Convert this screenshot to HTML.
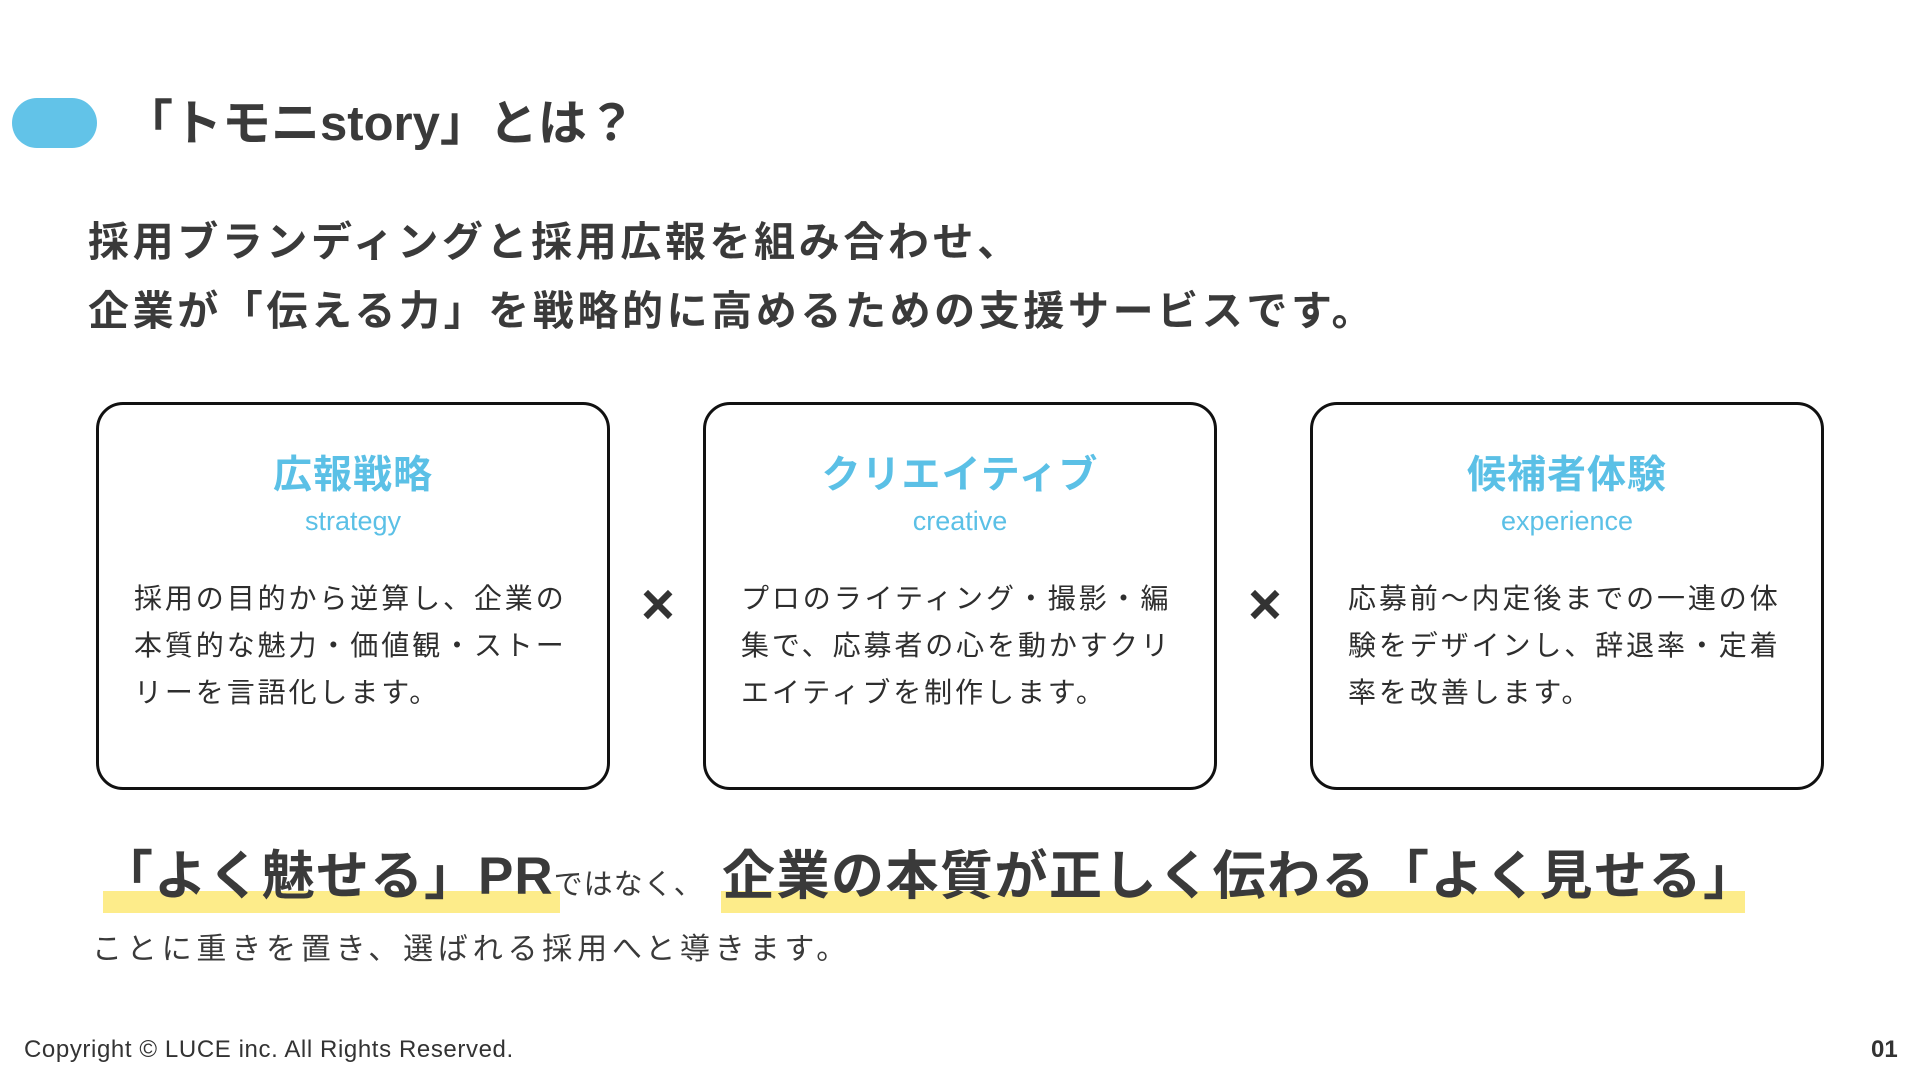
<!DOCTYPE html>
<html><head><meta charset="utf-8"><style>
*{margin:0;padding:0;box-sizing:border-box}
body{width:1920px;height:1080px;background:#fff;position:relative;overflow:hidden;font-family:"Liberation Sans","Noto Sans CJK JP",sans-serif;color:#3a3a3a}
.a{position:absolute;white-space:nowrap}
.pill{left:12px;top:98px;width:85px;height:50px;border-radius:25px;background:#62c3e8}
.title{left:124px;top:93px;font-size:49px;font-weight:700;line-height:62px}
.lead{left:88px;font-size:41px;font-weight:700;letter-spacing:3.6px;line-height:56px}
.box{position:absolute;top:402px;width:514px;height:388px;border:3.5px solid #111;border-radius:27px}
.box h3{position:absolute;left:0;right:0;top:46px;text-align:center;font-size:39px;font-weight:700;color:#5bc0e6;line-height:50px;letter-spacing:1px}
.box .en{position:absolute;left:0;right:0;top:99px;text-align:center;font-size:27px;color:#5bc0e6;line-height:34px}
.box p{position:absolute;left:35px;top:170px;font-size:28px;line-height:47px;letter-spacing:2.9px;white-space:nowrap;color:#2e2e2e}
.x{font-size:58px;font-weight:700;line-height:60px;color:#333}
.hl{background:#fdec8a;height:22px;top:891px}
.big{top:845px;font-size:53px;font-weight:700;line-height:64px;letter-spacing:1px}
</style></head><body>
<div class="a pill"></div>
<div class="a title">「トモニstory」とは？</div>
<div class="a lead" style="top:214px">採用ブランディングと採用広報を組み合わせ、</div>
<div class="a lead" style="top:283px">企業が「伝える力」を戦略的に高めるための支援サービスです。</div>

<div class="box" style="left:96px"><h3>広報戦略</h3><div class="en">strategy</div><p>採用の目的から逆算し、企業の<br>本質的な魅力・価値観・ストー<br>リーを言語化します。</p></div>
<div class="a x" style="left:641px;top:575px">×</div>
<div class="box" style="left:703px"><h3>クリエイティブ</h3><div class="en">creative</div><p>プロのライティング・撮影・編<br>集で、応募者の心を動かすクリ<br>エイティブを制作します。</p></div>
<div class="a x" style="left:1248px;top:575px">×</div>
<div class="box" style="left:1310px"><h3>候補者体験</h3><div class="en">experience</div><p>応募前〜内定後までの一連の体<br>験をデザインし、辞退率・定着<br>率を改善します。</p></div>

<div class="a hl" style="left:103px;width:457px"></div>
<div class="a hl" style="left:721px;width:1024px"></div>
<div class="a big" style="left:100px">「よく魅せる」PR<span style="font-size:29px;font-weight:400;letter-spacing:1px">ではなく、</span></div>
<div class="a big" style="left:722px;letter-spacing:1.5px">企業の本質が正しく伝わる「よく見せる」</div>
<div class="a" style="left:92px;top:930px;font-size:30px;letter-spacing:4.8px;line-height:40px">ことに重きを置き、選ばれる採用へと導きます。</div>

<div class="a" style="left:24px;top:1036px;font-size:24px;letter-spacing:0.6px;line-height:28px;color:#333">Copyright © LUCE inc. All Rights Reserved.</div>
<div class="a" style="left:1871px;top:1036px;font-size:24px;font-weight:700;line-height:28px;color:#333">01</div>
</body></html>
